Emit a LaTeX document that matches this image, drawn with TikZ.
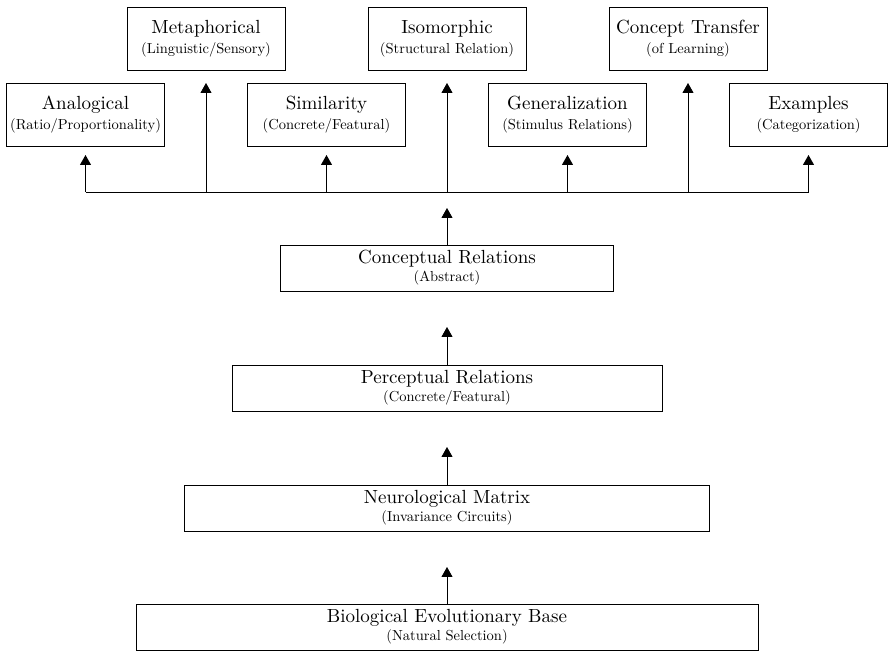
\documentclass[tikz,border=0pt]{standalone}
\usepackage{fontspec}
\setmainfont{lmroman10-regular}[Extension=.otf]
\usetikzlibrary{positioning,arrows.meta}
\tikzset{tbox/.style={draw, line width=0.9pt, minimum width=158pt, minimum height=63pt, inner sep=0pt, outer sep=0pt, align=center, font=\fontsize{19}{20}\selectfont}}
\tikzset{cbox/.style={tbox, minimum height=46pt, font=\fontsize{19}{18}\selectfont}}
\tikzset{arr/.style={draw, line width=0.9pt, -{Triangle[width=11pt,length=10pt]}}}
\newcommand{\subln}[1]{{\fontsize{14.5}{16}\selectfont #1}}

\begin{document}
\begin{tikzpicture}[x=1pt, y=1pt]
	\useasboundingbox (0,0) rectangle (890,652);
	% column of levels
	\node[cbox, minimum width=622pt] (bio) at (447,25)
		{Biological Evolutionary Base\\\subln{(Natural Selection)}};
	\node[cbox, minimum width=525pt, above=73pt of bio] (neuro)
		{Neurological Matrix\\\subln{(Invariance Circuits)}};
	\node[cbox, minimum width=430pt, above=74pt of neuro] (perc)
		{Perceptual Relations\\\subln{(Concrete/Featural)}};
	\node[cbox, minimum width=333pt, above=74pt of perc] (conc)
		{Conceptual Relations\\\subln{(Abstract)}};
	\coordinate[above=53pt of conc] (bus);
	%
	% upper row
	\node[tbox, above=175pt of conc] (iso) {Isomorphic\\\subln{(Structural Relation)}};
	\node[tbox, left=83pt of iso] (meta) {Metaphorical\\\subln{(Linguistic/Sensory)}};
	\node[tbox, right=83pt of iso] (trans) {Concept Transfer\\\subln{(of Learning)}};
	% lower row
	\node[tbox, below=13pt of iso, xshift=-120.5pt] (sim) {Similarity\\\subln{(Concrete/Featural)}};
	\node[tbox, left=83pt of sim] (anal) {Analogical\\\subln{(Ratio/Proportionality)}};
	\node[tbox, right=83pt of sim] (gen) {Generalization\\\subln{(Stimulus Relations)}};
	\node[tbox, right=83pt of gen] (ex) {Examples\\\subln{(Categorization)}};
	%
	\draw[line width=0.9pt] (anal |- bus) -- (ex |- bus);
	\foreach \n in {anal, sim, gen, ex}
		\draw[arr, shorten >=9pt] (\n |- bus) -- (\n);
	\foreach \n in {meta, iso, trans}
		\draw[arr, shorten >=13pt] (\n |- bus) -- (\n);
	%
	\draw[arr, shorten >=16pt] (conc) -- (bus);
	\draw[arr, shorten >=36pt] (perc) -- (conc);
	\draw[arr, shorten >=36pt] (neuro) -- (perc);
	\draw[arr, shorten >=36pt] (bio) -- (neuro);
\end{tikzpicture}
\end{document}
